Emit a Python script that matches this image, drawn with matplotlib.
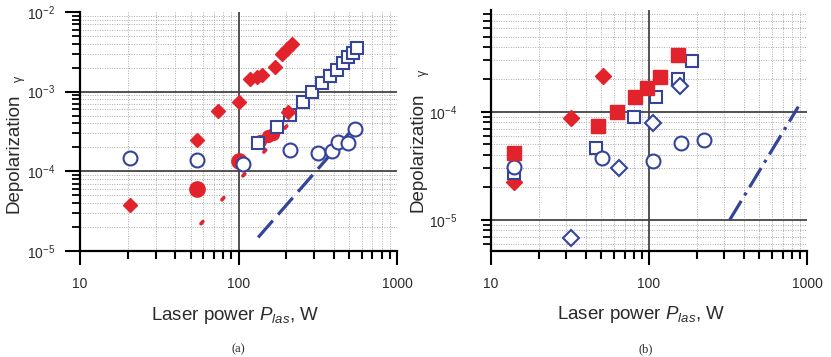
import numpy as np
import matplotlib
matplotlib.use("Agg")
import matplotlib.pyplot as plt
from matplotlib.ticker import FixedLocator, LogLocator, NullFormatter, FuncFormatter

plt.rcParams['font.family'] = ['Liberation Sans', 'DejaVu Sans']
plt.rcParams['mathtext.fontset'] = 'custom'
plt.rcParams['mathtext.rm'] = 'Liberation Sans'
plt.rcParams['mathtext.it'] = 'Liberation Sans:italic'

RED = '#e3232c'
BLUE = '#34449b'
TXT = '#2a2a2a'

# (a) measured depolarization vs laser power
a_dia_p = [20.7, 54.5, 74.6, 100, 118, 130, 140, 170, 187, 201, 217, 205]
a_dia_g = [3.8e-5, 2.46e-4, 5.67e-4, 7.4e-4, 1.45e-3, 1.55e-3, 1.63e-3, 2.04e-3,
           2.99e-3, 3.45e-3, 3.98e-3, 5.6e-4]
a_dot_p = [54.5, 100]
a_dot_g = [6.0e-5, 1.33e-4]
a_small_p = [137, 153, 165, 211]
a_small_g = [2.37e-4, 2.74e-4, 2.98e-4, 5.3e-4]
a_sq_p = [133, 174, 211, 256, 290, 335, 378, 417, 459, 493, 530, 557]
a_sq_g = [2.29e-4, 3.64e-4, 5.1e-4, 7.5e-4, 1.0e-3, 1.27e-3, 1.57e-3, 1.87e-3,
          2.27e-3, 2.70e-3, 3.09e-3, 3.5e-3]
a_circ_p = [20.7, 54.5, 107, 211, 318, 387, 427, 493, 543]
a_circ_g = [1.48e-4, 1.38e-4, 1.23e-4, 1.85e-4, 1.68e-4, 1.8e-4, 2.35e-4, 2.24e-4, 3.38e-4]
a_fit_red_p = [58, 215]
a_fit_red_g = [2.2e-5, 4.3e-4]
a_fit_blue_p = [133, 505]
a_fit_blue_g = [1.48e-5, 3.1e-4]

# (b)
b_sq_p = [14.0, 47.3, 62.5, 81, 97.5, 118, 152]
b_sq_g = [4.15e-5, 7.42e-5, 1.0e-4, 1.37e-4, 1.66e-4, 2.1e-4, 3.37e-4]
b_dia_p = [14.0, 32.1, 50.9]
b_dia_g = [2.27e-5, 8.74e-5, 2.16e-4]
b_osq_p = [14.0, 46.3, 79.8, 111, 152, 188]
b_osq_g = [2.74e-5, 4.6e-5, 9.05e-5, 1.37e-4, 2.01e-4, 2.99e-4]
b_circ_p = [14.0, 50.5, 105.7, 160, 222]
b_circ_g = [3.12e-5, 3.73e-5, 3.54e-5, 5.13e-5, 5.5e-5]
b_odia_p = [32.1, 65, 105.7, 158]
b_odia_g = [6.78e-6, 3.02e-5, 7.86e-5, 1.74e-4]
b_fit_p = [324, 881]
b_fit_g = [1.0e-5, 1.12e-4]

x_ticks = [10, 100, 1000]


def style_axes(ax, ylim, hlines, ymaj_len, ypad):
    ax.set_xscale('log')
    ax.set_yscale('log')
    ax.set_xlim(10, 1000)
    ax.set_ylim(*ylim)
    for s in ['top', 'right']:
        ax.spines[s].set_visible(False)
    for s in ['left', 'bottom']:
        ax.spines[s].set_linewidth(1.6)
    ax.xaxis.set_major_locator(FixedLocator(x_ticks))
    ax.xaxis.set_major_formatter(FuncFormatter(lambda v, _: '%d' % v))
    ax.xaxis.set_minor_locator(LogLocator(base=10, subs=np.arange(2, 10)))
    ax.xaxis.set_minor_formatter(NullFormatter())
    ax.yaxis.set_major_locator(LogLocator(base=10))
    ax.yaxis.set_major_formatter(FuncFormatter(
        lambda v, _: r'$\mathregular{10^{%d}}$' % round(np.log10(v))))
    ax.yaxis.set_minor_locator(LogLocator(base=10, subs=np.arange(2, 10)))
    ax.yaxis.set_minor_formatter(NullFormatter())
    ax.tick_params(axis='x', which='major', direction='out', length=10, width=1.5,
                   pad=9, labelsize=10, labelcolor=TXT)
    ax.tick_params(axis='x', which='minor', direction='out', length=5.5, width=1.5)
    ax.tick_params(axis='y', which='major', direction='out', length=ymaj_len, width=1.5,
                   pad=ypad, labelsize=10, labelcolor=TXT)
    ax.tick_params(axis='y', which='minor', direction='out', length=5.5, width=1.3)
    ax.set_axisbelow(True)
    ax.grid(True, which='minor', ls=(0, (1, 1.5)), color='#aaaaaa', lw=0.7)
    ax.axvline(100, color='#444444', lw=1.3, zorder=1)
    for h in hlines:
        ax.axhline(h, color='#444444', lw=1.3, zorder=1)


fig = plt.figure(figsize=(8.31, 3.57), dpi=100)

# ---- panel (a)
ax = fig.add_axes([80 / 831, 106 / 357, 317 / 831, 239 / 357])
style_axes(ax, (1e-5, 1e-2), [1e-3, 1e-4], 11, 7)
ax.plot(a_fit_blue_p, a_fit_blue_g, color=BLUE, lw=2.3, dashes=(7, 2.5), zorder=2)
ax.plot(a_fit_red_p, a_fit_red_g, color=RED, lw=2.6, dashes=(0.8, 8),
        dash_capstyle='round', zorder=2)
ax.plot(a_dot_p, a_dot_g, 'o', ms=11, color=RED, mec=RED, zorder=3)
ax.plot(a_small_p, a_small_g, 'o', ms=8.5, color=RED, mec=RED, zorder=3)
ax.plot(a_sq_p, a_sq_g, 's', ms=8.5, mfc='white', mec=BLUE, mew=1.5, zorder=4)
ax.plot(a_circ_p, a_circ_g, 'o', ms=10, mfc='white', mec=BLUE, mew=1.5, zorder=4)
ax.plot(a_dia_p, a_dia_g, 'D', ms=7.5, color=RED, mec=RED, zorder=5)
ax.set_xlabel(r'Laser power $P_{las}$, W', fontsize=13.5, color=TXT)
ax.xaxis.set_label_coords(0.49, -0.225)
ax.set_ylabel('Depolarization', fontsize=13.5, color=TXT)
ax.yaxis.set_label_coords(-0.18, 0.41)
ax.text(-0.192, 0.72, 'γ', rotation=90, fontsize=9, color=TXT,
        transform=ax.transAxes, ha='center', va='center')

# ---- panel (b)
bx = fig.add_axes([491 / 831, 106 / 357, 316 / 831, 241 / 357])
style_axes(bx, (5.16e-6, 8.8e-4), [1e-4, 1e-5], 7, 17)
bx.plot(b_fit_p, b_fit_g, color=BLUE, lw=2.3, dashes=(7, 2, 1, 2), zorder=2)
bx.plot(b_dia_p, b_dia_g, 'D', ms=8, color=RED, mec=RED, zorder=3)
bx.plot(b_osq_p, b_osq_g, 's', ms=9, mfc='white', mec=BLUE, mew=1.5, zorder=4)
bx.plot(b_circ_p, b_circ_g, 'o', ms=10, mfc='white', mec=BLUE, mew=1.5, zorder=4)
bx.plot(b_odia_p, b_odia_g, 'D', ms=8, mfc='white', mec=BLUE, mew=1.5, zorder=4)
bx.plot(b_sq_p, b_sq_g, 's', ms=10, color=RED, mec=RED, zorder=5)
bx.set_xlabel(r'Laser power $P_{las}$, W', fontsize=13.5, color=TXT)
bx.xaxis.set_label_coords(0.475, -0.22)
bx.set_ylabel('Depolarization', fontsize=13.5, color=TXT)
bx.yaxis.set_label_coords(-0.203, 0.41)
bx.text(-0.214, 0.74, 'γ', rotation=90, fontsize=9, color=TXT,
        transform=bx.transAxes, ha='center', va='center')

fig.text(238 / 831, 1 - 349 / 357, '(a)', family='Liberation Serif', fontsize=9,
         color=TXT, ha='center', va='center')
fig.text(646 / 831, 1 - 349 / 357, '(b)', family='Liberation Serif', fontsize=9,
         color=TXT, ha='center', va='center')

fig.savefig('out.png', dpi=100)
